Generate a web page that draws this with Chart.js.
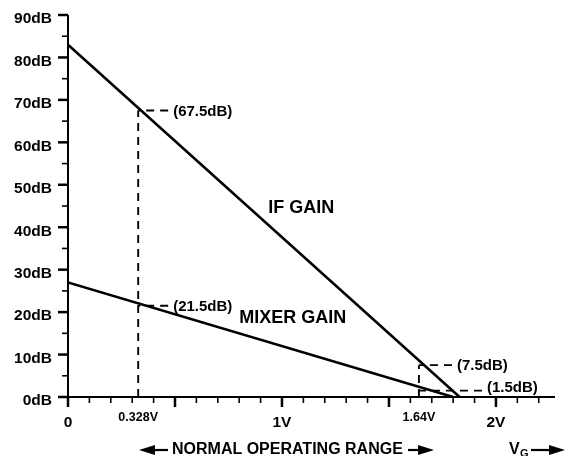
<!DOCTYPE html>
<html>
<head>
<meta charset="utf-8">
<script src="https://cdn.jsdelivr.net/npm/chart.js@4/dist/chart.umd.min.js"></script>
<style>
  html, body { margin: 0; background: #fff; }
  #wrap { width: 567px; height: 456px; }
</style>
</head>
<body>
<div id="wrap"><canvas id="chart"></canvas></div>
<script>
// values
const ifGainV = [0, 1.83];
const ifGainDb = [83, 0];
const mixerGainV = [0, 1.80];
const mixerGainDb = [27, 0];

const markerV = [0.328, 0.328, 1.64, 1.64];
const markerDb = [67.5, 21.5, 7.5, 1.5];
const markerLabels = ["(67.5dB)", "(21.5dB)", "(7.5dB)", "(1.5dB)"];

const yTickValues = [0, 10, 20, 30, 40, 50, 60, 70, 80, 90];
const xTickValues = [0, 1, 2];
const xTickLabels = ["0", "1V", "2V"];
const xMarkValues = [0.328, 1.64];
const xMarkLabels = ["0.328V", "1.64V"];

const FONT = "'Liberation Sans', Arial, sans-serif";

function pts(xs, ys) {
  return xs.map((x, i) => ({ x: x, y: ys[i] }));
}

const drawing = {
  id: "drawing",
  beforeDatasetsDraw(chart) {
    const ctx = chart.ctx;
    const x = chart.scales.x, y = chart.scales.y;
    // dashed verticals, up to the highest marker at each voltage
    ctx.save();
    ctx.strokeStyle = "#000";
    ctx.lineWidth = 1.9;
    ctx.setLineDash([8, 6]);
    const top = {};
    markerV.forEach((v, i) => {
      const py = y.getPixelForValue(markerDb[i]);
      if (!top[v] || py < top[v]) top[v] = py;
    });
    Object.keys(top).forEach((v) => {
      const px = x.getPixelForValue(+v);
      ctx.beginPath();
      ctx.moveTo(px, y.getPixelForValue(0));
      ctx.lineTo(px, top[v]);
      ctx.stroke();
    });
    ctx.restore();
  },
  afterDatasetsDraw(chart) {
    const ctx = chart.ctx;
    const x = chart.scales.x, y = chart.scales.y;
    const a = chart.chartArea;
    const x0 = x.getPixelForValue(0);
    const y0 = y.getPixelForValue(0);
    ctx.save();
    ctx.fillStyle = "#000";
    ctx.strokeStyle = "#000";

    // horizontal dashes (drawn from the label side) + value labels
    ctx.lineWidth = 1.9;
    ctx.font = "bold 15px " + FONT;
    ctx.textBaseline = "middle";
    ctx.textAlign = "left";
    markerV.forEach((v, i) => {
      const px = x.getPixelForValue(v);
      const py = y.getPixelForValue(markerDb[i]);
      const low = markerDb[i] < 5;
      const len = low ? 63 : (v > 1 ? 33 : 30);
      ctx.setLineDash([8, 6]);
      ctx.beginPath();
      ctx.moveTo(px + len, py);
      ctx.lineTo(px, py);
      ctx.stroke();
      ctx.setLineDash([]);
      ctx.fillText(markerLabels[i], px + len + 5, py + (low ? -3 : 1));
    });

    // axes
    ctx.setLineDash([]);
    ctx.lineWidth = 2;
    ctx.beginPath();
    ctx.moveTo(x0, a.top);
    ctx.lineTo(x0, y0);
    ctx.moveTo(x0 - 10, y0);
    ctx.lineTo(a.right, y0);
    ctx.stroke();

    // y ticks every 5 dB
    for (let v = 0; v <= 90; v += 5) {
      const py = y.getPixelForValue(v);
      const major = v % 10 === 0;
      ctx.lineWidth = major ? 2.5 : 1.6;
      ctx.beginPath();
      ctx.moveTo(x0, py);
      ctx.lineTo(x0 - (major ? 10 : 6), py);
      ctx.stroke();
    }
    // x ticks every 0.1 V
    for (let k = 0; k <= 22; k++) {
      const px = x.getPixelForValue(k / 10);
      const major = k % 5 === 0;
      ctx.lineWidth = major ? 2.5 : 1.6;
      ctx.beginPath();
      ctx.moveTo(px, y0);
      ctx.lineTo(px, y0 + (major ? 10 : 6));
      ctx.stroke();
    }

    // y labels
    ctx.font = "bold 15.5px " + FONT;
    ctx.textAlign = "right";
    ctx.textBaseline = "middle";
    yTickValues.forEach((v) => {
      ctx.fillText(v + "dB", 52, y.getPixelForValue(v) + 4);
    });

    // x labels
    ctx.textAlign = "center";
    xTickValues.forEach((v, i) => {
      ctx.fillText(xTickLabels[i], x.getPixelForValue(v), y0 + 26);
    });
    ctx.font = "bold 12.5px " + FONT;
    xMarkValues.forEach((v, i) => {
      ctx.fillText(xMarkLabels[i], x.getPixelForValue(v), y0 + 21);
    });

    // curve names
    ctx.font = "bold 18px " + FONT;
    ctx.fillText("IF GAIN", x.getPixelForValue(1.09), y.getPixelForValue(44.6));
    ctx.fillText("MIXER GAIN", x.getPixelForValue(1.05), y.getPixelForValue(18.6));

    // bottom caption with arrows
    const by = 450;
    ctx.font = "bold 16px " + FONT;
    ctx.textAlign = "left";
    ctx.fillText("NORMAL OPERATING RANGE", 172, by);
    const arrow = (from, to) => {
      const dir = Math.sign(to - from);
      ctx.lineWidth = 2.2;
      ctx.beginPath();
      ctx.moveTo(from, by);
      ctx.lineTo(to - dir * 12, by);
      ctx.stroke();
      ctx.beginPath();
      ctx.moveTo(to, by);
      ctx.lineTo(to - dir * 16, by - 5);
      ctx.lineTo(to - dir * 16, by + 5);
      ctx.closePath();
      ctx.fill();
    };
    arrow(168, 139);
    arrow(408, 434);
    ctx.fillText("V", 509, by);
    ctx.font = "bold 11px " + FONT;
    ctx.fillText("G", 520, by + 4);
    arrow(531, 565);
    ctx.restore();
  }
};

new Chart(document.getElementById("chart"), {
  type: "line",
  data: {
    datasets: [
      { label: "IF GAIN", data: pts(ifGainV, ifGainDb) },
      { label: "MIXER GAIN", data: pts(mixerGainV, mixerGainDb) }
    ]
  },
  options: {
    responsive: true,
    maintainAspectRatio: false,
    animation: false,
    devicePixelRatio: 1,
    layout: { padding: { left: 68, top: 15, right: 12, bottom: 59 } },
    elements: {
      line: { borderColor: "#000", borderWidth: 2.6, tension: 0 },
      point: { radius: 0 }
    },
    scales: {
      x: { type: "linear", min: 0, max: 2.276, display: false },
      y: { type: "linear", min: 0, max: 90, display: false }
    },
    plugins: { legend: { display: false }, tooltip: { enabled: false } }
  },
  plugins: [drawing]
});
</script>
</body>
</html>
